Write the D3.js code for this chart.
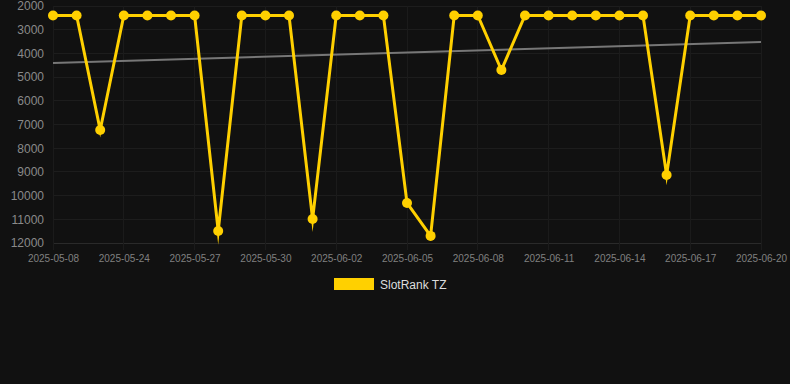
<!DOCTYPE html>
<html><head><meta charset="utf-8">
<script src="https://cdn.jsdelivr.net/npm/d3@7"></script>
<style>
html,body{margin:0;padding:0;background:#111111;}
svg{display:block;font-family:"Liberation Sans",Arial,sans-serif;}
</style></head>
<body><svg id="c" width="790" height="384"></svg>
<script>
const categories = ["2025-05-08","2025-05-22","2025-05-23","2025-05-24","2025-05-25","2025-05-26","2025-05-27","2025-05-28","2025-05-29","2025-05-30","2025-05-31","2025-06-01","2025-06-02","2025-06-03","2025-06-04","2025-06-05","2025-06-06","2025-06-07","2025-06-08","2025-06-09","2025-06-10","2025-06-11","2025-06-12","2025-06-13","2025-06-14","2025-06-15","2025-06-16","2025-06-17","2025-06-18","2025-06-19","2025-06-20"];
const rankValues = [2400,2400,7230,2400,2400,2400,2400,11490,2400,2400,2400,10990,2400,2400,2400,10310,11700,2400,2400,4700,2400,2400,2400,2400,2400,2400,9130,2400,2400,2400,2400];
const trendValues = [4400,3520]; // at first and last category
const yTicks = [2000,3000,4000,5000,6000,7000,8000,9000,10000,11000,12000];
const seriesName = "SlotRank TZ";

const svg = d3.select("#c");
const x = d3.scalePoint().domain(categories).range([53,761]);
const y = d3.scaleLinear().domain([2000,12000]).range([6,243]);

// grid
const g = svg.append("g");
g.selectAll("line.h").data(yTicks).join("line")
  .attr("x1",53).attr("x2",761).attr("y1",d=>y(d)).attr("y2",d=>y(d))
  .attr("stroke",d=>d===12000?"#2a2a2a":"#1d1d1d").attr("stroke-width",1).attr("shape-rendering","crispEdges");
const shown = categories.filter((d,i)=>i%3===0);
g.selectAll("line.v").data(shown).join("line")
  .attr("x1",d=>x(d)).attr("x2",d=>x(d)).attr("y1",6).attr("y2",250)
  .attr("stroke","#1b1b1b").attr("stroke-width",1).attr("shape-rendering","crispEdges");

// y axis
const ya = svg.append("g").attr("transform","translate(53,0)")
  .call(d3.axisLeft(y).tickValues(yTicks).tickSize(0).tickPadding(9).tickFormat(d=>String(d)));
ya.select(".domain").remove();
ya.selectAll("text").attr("fill","#8a8a8a").attr("font-size",12).attr("font-family","Liberation Sans, Arial, sans-serif");

// x axis
const xa = svg.append("g").attr("transform","translate(0,243)")
  .call(d3.axisBottom(x).tickValues(shown).tickSize(0).tickPadding(12));
xa.select(".domain").remove();
xa.selectAll("text").attr("fill","#808080").attr("font-size",10).attr("font-family","Liberation Sans, Arial, sans-serif");

// trend
svg.append("line")
  .attr("x1",x(categories[0])).attr("y1",y(trendValues[0]))
  .attr("x2",x(categories[categories.length-1])).attr("y2",y(trendValues[1]))
  .attr("stroke","#777").attr("stroke-width",2);

// line
const line = d3.line().x((d,i)=>x(categories[i])).y(d=>y(d));
svg.append("path").datum(rankValues).attr("d",line)
  .attr("fill","none").attr("stroke","#FFD000").attr("stroke-width",3)
  .attr("stroke-linejoin","miter").attr("stroke-miterlimit",10);
svg.selectAll("circle.p").data(rankValues).join("circle")
  .attr("cx",(d,i)=>x(categories[i])).attr("cy",d=>y(d)).attr("r",5)
  .attr("fill","#FFD000");

// legend
svg.append("rect").attr("x",334).attr("y",278).attr("width",40).attr("height",12).attr("fill","#FFD000");
svg.append("text").attr("x",380).attr("y",289).attr("fill","#ddd").attr("font-size",12).text(seriesName);
</script></body></html>
